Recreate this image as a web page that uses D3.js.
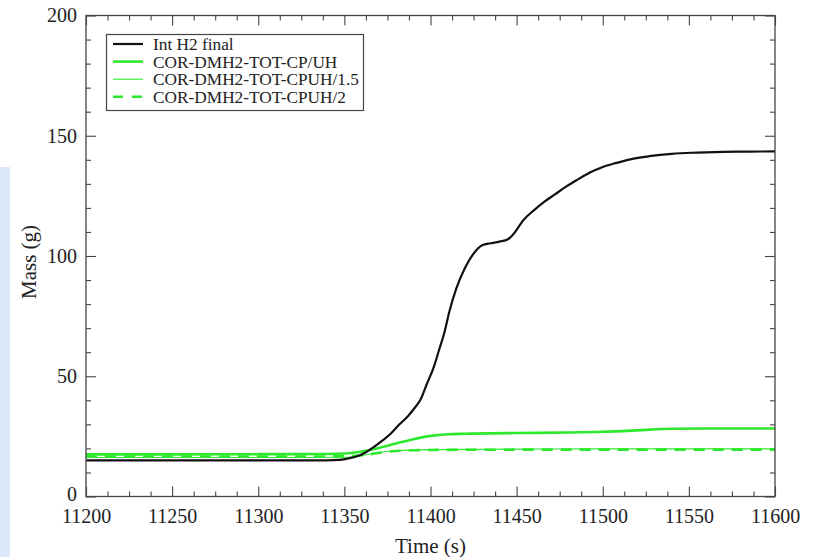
<!DOCTYPE html>
<html>
<head>
<meta charset="utf-8">
<script src="https://cdn.jsdelivr.net/npm/d3@7/dist/d3.min.js"></script>
<style>
  html, body { margin: 0; padding: 0; background: #fff; }
  svg { display: block; }
  .tick text { font-family: "Liberation Serif", serif; }
</style>
</head>
<body>
<svg id="chart" width="821" height="557"></svg>
<script>
// Hydrogen mass vs. time
const xTicks = [11200, 11250, 11300, 11350, 11400, 11450, 11500, 11550, 11600];
const yTicks = [0, 50, 100, 150, 200];

const seriesNames = [
  "Int H2 final",
  "COR-DMH2-TOT-CP/UH",
  "COR-DMH2-TOT-CPUH/1.5",
  "COR-DMH2-TOT-CPUH/2"
];

const intH2Time = [11200, 11250, 11300, 11340, 11347, 11352, 11357, 11362, 11367, 11372, 11377, 11382, 11387, 11391, 11394, 11398, 11402, 11405, 11408, 11411, 11415, 11420, 11425, 11430, 11435, 11440, 11445, 11448, 11454, 11460, 11466, 11472, 11478, 11484, 11490, 11495, 11500, 11508, 11516, 11527, 11540, 11555, 11570, 11585, 11600];
const intH2Mass = [15, 15, 15, 15, 15.2, 15.8, 16.6, 18.2, 20.5, 23.2, 26.2, 30, 33.5, 37, 40, 47, 54, 61, 68, 77, 86.5, 95, 101, 104.5, 105.3, 106, 107, 109, 115, 119, 122.5, 125.5, 128.5, 131.2, 133.7, 135.5, 137, 138.7, 140.2, 141.5, 142.5, 143, 143.3, 143.4, 143.5];

const cpuhTime = [11200, 11250, 11300, 11340, 11350, 11355, 11361, 11370, 11380, 11390, 11400, 11410, 11420, 11450, 11480, 11500, 11520, 11540, 11560, 11600];
const cpuhMass = [17.5, 17.5, 17.6, 17.7, 17.9, 18.2, 18.8, 20.2, 22, 23.8, 25.2, 25.9, 26.1, 26.4, 26.6, 26.9, 27.5, 28.2, 28.3, 28.3];

const cpuh15Time = [11200, 11250, 11300, 11350, 11360, 11370, 11380, 11400, 11450, 11500, 11600];
const cpuh15Mass = [16.2, 16.2, 16.2, 16.3, 17, 18.3, 19, 19.5, 19.7, 19.8, 19.8];

const cpuh2Time = [11200, 11250, 11300, 11350, 11356, 11365, 11375, 11390, 11410, 11500, 11600];
const cpuh2Mass = [16.6, 16.6, 16.6, 16.7, 16.9, 17.6, 18.6, 19.2, 19.4, 19.5, 19.5];

const GREEN = "#2de82d";
const styles = [
  { color: "#111", width: 2.2, dash: null },
  { color: GREEN, width: 2.6, dash: null },
  { color: GREEN, width: 1.1, dash: null },
  { color: GREEN, width: 2.6, dash: "11,8" }
];

const series = [
  d3.zip(intH2Time, intH2Mass),
  d3.zip(cpuhTime, cpuhMass),
  d3.zip(cpuh15Time, cpuh15Mass),
  d3.zip(cpuh2Time, cpuh2Mass)
];

const svg = d3.select("#chart");
const plotLeft = 86, plotRight = 775, plotTop = 15.5, plotBottom = 496.5;

const x = d3.scaleLinear().domain([11200, 11600]).range([plotLeft, plotRight]);
const y = d3.scaleLinear().domain([0, 200]).range([plotBottom, plotTop]);

// pale side strip at the left edge
svg.append("rect").attr("x", 0).attr("y", 167).attr("width", 10).attr("height", 390)
  .attr("fill", "#dde9fb");

const xMinor = d3.range(11200, 11600.01, 12.5).filter(v => v % 50 !== 0);
const yMinor = d3.range(0, 200.01, 10).filter(v => v % 50 !== 0);
const axisColor = "#444";
const font = "'Liberation Serif', serif";

function styleAxis(g) {
  g.select(".domain").remove();
  g.selectAll(".tick line").attr("stroke", axisColor).attr("stroke-width", 1.1);
}

// bottom axis with labels, ticks pointing inward
const gx = svg.append("g").attr("transform", `translate(0,${plotBottom})`)
  .call(d3.axisBottom(x).tickValues(xTicks).tickSize(-10).tickPadding(22).tickFormat(d3.format("d")));
styleAxis(gx);
gx.selectAll(".tick text").attr("font-size", 20).attr("fill", "#222").attr("dy", "0.2em");
svg.append("g").attr("transform", `translate(0,${plotBottom})`)
  .call(d3.axisBottom(x).tickValues(xMinor).tickSize(-5).tickFormat(""))
  .call(styleAxis);

// top axis ticks
svg.append("g").attr("transform", `translate(0,${plotTop})`)
  .call(d3.axisTop(x).tickValues(xTicks).tickSize(-10).tickFormat(""))
  .call(styleAxis);
svg.append("g").attr("transform", `translate(0,${plotTop})`)
  .call(d3.axisTop(x).tickValues(xMinor).tickSize(-5).tickFormat(""))
  .call(styleAxis);

// left axis with labels
const gy = svg.append("g").attr("transform", `translate(${plotLeft},0)`)
  .call(d3.axisLeft(y).tickValues(yTicks).tickSize(-10).tickPadding(9).tickFormat(d3.format("d")));
styleAxis(gy);
gy.selectAll(".tick text").attr("font-size", 20).attr("fill", "#222")
  .attr("dy", d => d === 0 ? "0.18em" : "0.32em");
svg.append("g").attr("transform", `translate(${plotLeft},0)`)
  .call(d3.axisLeft(y).tickValues(yMinor).tickSize(-5).tickFormat(""))
  .call(styleAxis);

// right axis ticks
svg.append("g").attr("transform", `translate(${plotRight},0)`)
  .call(d3.axisRight(y).tickValues(yTicks).tickSize(-10).tickFormat(""))
  .call(styleAxis);
svg.append("g").attr("transform", `translate(${plotRight},0)`)
  .call(d3.axisRight(y).tickValues(yMinor).tickSize(-5).tickFormat(""))
  .call(styleAxis);

// data lines
const line = d3.line().x(d => x(d[0])).y(d => y(d[1])).curve(d3.curveMonotoneX);
const drawOrder = [2, 3, 1, 0];
drawOrder.forEach(i => {
  svg.append("path")
    .datum(series[i])
    .attr("d", line)
    .attr("fill", "none")
    .attr("stroke", styles[i].color)
    .attr("stroke-width", styles[i].width)
    .attr("stroke-dasharray", styles[i].dash)
    .attr("stroke-linejoin", "round");
});

// plot frame
svg.append("rect").attr("x", plotLeft).attr("y", plotTop)
  .attr("width", plotRight - plotLeft).attr("height", plotBottom - plotTop)
  .attr("fill", "none").attr("stroke", axisColor).attr("stroke-width", 1.3);

// axis titles
svg.append("text").attr("x", (plotLeft + plotRight) / 2).attr("y", 553)
  .attr("text-anchor", "middle").attr("font-family", font).attr("font-size", 21)
  .attr("fill", "#222").text("Time (s)");
svg.append("text").attr("transform", "translate(36,262) rotate(-90)")
  .attr("text-anchor", "middle").attr("font-family", font).attr("font-size", 21)
  .attr("fill", "#222").text("Mass (g)");

// legend
const legend = svg.append("g");
legend.append("rect").attr("x", 106.5).attr("y", 34.5).attr("width", 257).attr("height", 76)
  .attr("fill", "#fff").attr("stroke", axisColor).attr("stroke-width", 1.2);
seriesNames.forEach((name, i) => {
  const cy = 44 + i * 17.6;
  legend.append("line").attr("x1", 113).attr("x2", 143).attr("y1", cy).attr("y2", cy)
    .attr("stroke", styles[i].color).attr("stroke-width", styles[i].width)
    .attr("stroke-dasharray", styles[i].dash ? "10,9" : null);
  legend.append("text").attr("x", 153).attr("y", cy + 6)
    .attr("font-family", font).attr("font-size", 17.3).attr("fill", "#222").text(name);
});
</script>
</body>
</html>
